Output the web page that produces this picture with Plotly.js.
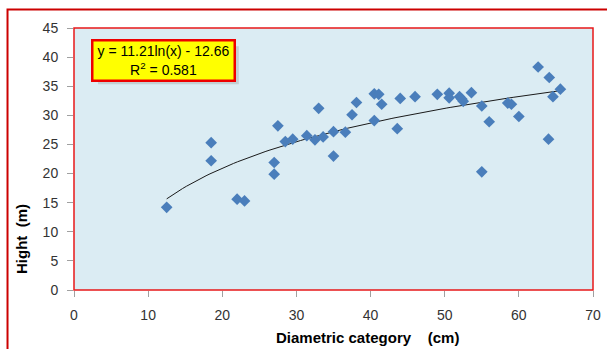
<!DOCTYPE html>
<html>
<head>
<meta charset="utf-8">
<script src="https://cdn.plot.ly/plotly-3.0.1.min.js"></script>
<style>
html,body{margin:0;padding:0;background:#fff;}
#chart{width:607px;height:349px;}
</style>
</head>
<body>
<div id="chart"></div>
<script>
// Diameter (cm) and height (m)
var diameter = [12.5, 18.5, 18.5, 22.0, 23.0, 27.5, 27.0, 27.0, 28.5, 29.5, 31.4, 32.5, 33.6, 33.0, 35.0, 35.0, 36.6, 37.5, 38.1, 40.5, 41.1, 41.5, 40.5, 43.6, 44.0, 46.0, 49.0, 50.6, 50.6, 52.0, 52.5, 52.3, 53.6, 55.0, 56.0, 55.0, 58.5, 59.0, 60.0, 62.6, 64.1, 64.0, 64.6, 65.6];
var height   = [14.2, 25.3, 22.2, 15.6, 15.3, 28.2, 21.9, 19.9, 25.5, 25.9, 26.5, 25.8, 26.3, 31.2, 27.2, 23.0, 27.1, 30.1, 32.2, 33.7, 33.6, 31.9, 29.1, 27.7, 32.9, 33.2, 33.6, 33.8, 33.0, 33.2, 32.4, 32.8, 33.9, 31.6, 28.9, 20.3, 32.1, 31.9, 29.8, 38.3, 36.5, 25.9, 33.2, 34.5];
// Logarithmic trendline coefficients shown on the chart
var trendA = 11.21;
var trendB = -12.66;
var trendLabel = ["y = 11.21ln(x) - 12.66", "R<sup>2</sup> = 0.581"];
var xTicks = [0, 10, 20, 30, 40, 50, 60, 70];
var yTicks = [0, 5, 10, 15, 20, 25, 30, 35, 40, 45];
var xTitle = "Diametric category\u00a0\u00a0\u00a0 (cm)";
var yTitle = "Hight\u00a0\u00a0(m)";

var xmin = Math.min.apply(null, diameter), xmax = Math.max.apply(null, diameter);
var tx = [], ty = [];
for (var i = 0; i <= 100; i++) {
  var xv = xmin + (xmax - xmin) * i / 100;
  tx.push(xv); ty.push(trendA * Math.log(xv) + trendB);
}

var traces = [
  {x: tx, y: ty, mode: 'lines', type: 'scatter', line: {color: '#1a1a1a', width: 1}, hoverinfo: 'skip'},
  {x: diameter, y: height, mode: 'markers', type: 'scatter',
   marker: {symbol: 'diamond', size: 9, color: '#4a7ebb', line: {width: 0}}}
];

var tickFont = {family: 'Liberation Sans, Arial, sans-serif', size: 14, color: '#333333'};
var layout = {
  width: 607, height: 349,
  margin: {l: 74, r: 14, t: 28, b: 59},
  paper_bgcolor: '#ffffff',
  plot_bgcolor: '#dbecf3',
  showlegend: false,
  xaxis: {range: [0, 70], tickvals: xTicks, ticks: 'outside', ticklen: 6, tickcolor: '#a0a0a0',
          ticklabelstandoff: 6,
          showgrid: false, zeroline: false, showline: false, tickfont: tickFont, fixedrange: true},
  yaxis: {range: [0, 45], tickvals: yTicks, ticks: 'outside', ticklen: 6, tickcolor: '#a0a0a0',
          ticklabelstandoff: 6,
          showgrid: false, zeroline: false, showline: false, tickfont: tickFont, fixedrange: true},
  shapes: [
    {type: 'rect', xref: 'paper', yref: 'paper', x0: 0, x1: 1, y0: 0, y1: 1,
     line: {color: '#e8181a', width: 1.5}, layer: 'above'},
    {type: 'rect', xref: 'paper', yref: 'paper', x0: -0.1281, x1: 1.06, y0: -0.3, y1: 1.0705,
     line: {color: '#cc0000', width: 2}, layer: 'above'},
    // soft shadow of label box
    {type: 'rect', xref: 'paper', yref: 'paper', x0: 0.0462, x1: 0.3175, y0: 0.785, y1: 0.93,
     line: {width: 0}, fillcolor: 'rgba(140,140,140,0.30)', layer: 'above'}
  ],
  annotations: [
    {xref: 'paper', yref: 'paper', x: 0.1715, y: 0.876, xanchor: 'center', yanchor: 'middle',
     text: trendLabel.join('<br>'), showarrow: false, align: 'center',
     font: {family: 'Liberation Sans, Arial, sans-serif', size: 14, color: '#000000'},
     bgcolor: '#ffff00', bordercolor: '#ee0000', borderwidth: 2.5, borderpad: 1, width: 138, height: 36},
    {xref: 'paper', yref: 'paper', x: 0.5655, y: -0.18, xanchor: 'center', yanchor: 'middle',
     text: '<b>' + xTitle + '</b>', showarrow: false,
     font: {family: 'Liberation Sans, Arial, sans-serif', size: 15, color: '#000000'}},
    {xref: 'paper', yref: 'paper', x: -0.1, y: 0.195, xanchor: 'center', yanchor: 'middle',
     text: '<b>' + yTitle + '</b>', showarrow: false, textangle: -90,
     font: {family: 'Liberation Sans, Arial, sans-serif', size: 15, color: '#000000'}}
  ]
};

Plotly.newPlot('chart', traces, layout, {staticPlot: true, displayModeBar: false});
</script>
</body>
</html>
